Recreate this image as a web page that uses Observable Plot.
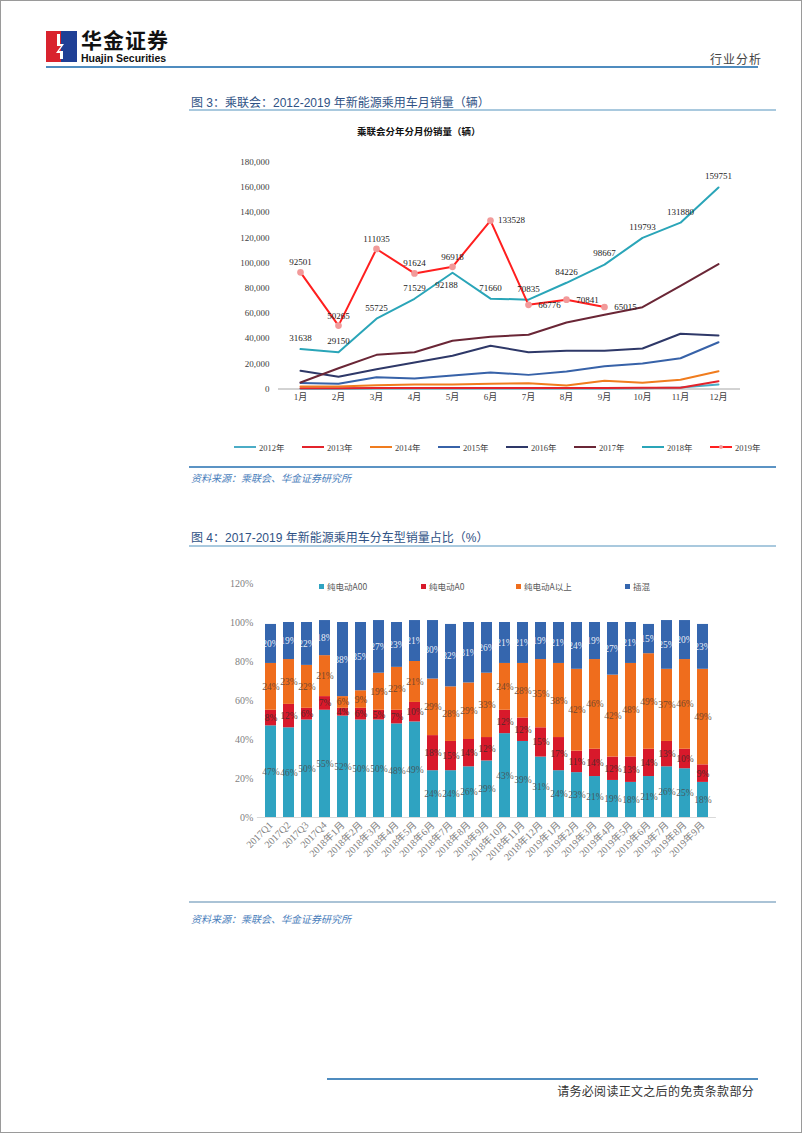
<!DOCTYPE html>
<html><head><meta charset="utf-8">
<script src="https://cdn.jsdelivr.net/npm/d3@7"></script>
<script src="https://cdn.jsdelivr.net/npm/@observablehq/plot@0.6"></script>
<style>
html,body{margin:0;padding:0;background:#fff;}
#page{position:relative;width:802px;height:1133px;overflow:hidden;box-sizing:border-box;border:1px solid #9a9a9a;font-family:"Liberation Sans","Noto Sans CJK SC",sans-serif;}
.abs{position:absolute;white-space:nowrap;}
.hr{position:absolute;}
.figtitle{font-size:12px;color:#2f5285;}
.src{font-size:10px;color:#4a7ebb;font-style:italic;font-family:"Noto Sans CJK SC",sans-serif;}
.leg1{position:absolute;top:440px;left:233px;display:flex;font-family:"Liberation Serif","Noto Sans CJK SC",serif;font-size:8.5px;color:#404040;}
.leg1 .it{width:68px;display:flex;align-items:center;}
.leg2{font-family:"Noto Sans CJK SC",sans-serif;font-size:8.5px;color:#595959;}
</style></head>
<body><div id="page">
  <svg class="abs" style="left:45px;top:30px" width="31" height="31" viewBox="0 0 31 31">
    <rect x="0" y="0" width="15" height="31" fill="#d9232e"/>
    <rect x="15" y="0" width="16" height="31" fill="#1f3f95"/>
    <polygon points="11,3 14,3 14,13 18,13 13,20 17,20 17,28 14,28 14,22 10,22 15,15 11,15" fill="#fff"/>
  </svg>
  <div class="abs" style="left:80px;top:28px;font-size:21px;line-height:21px;height:21px;font-weight:bold;color:#111;letter-spacing:1px;font-family:'Noto Sans CJK SC',sans-serif;">华金证券</div>
  <div class="abs" style="left:80px;top:52px;font-size:10.5px;line-height:11px;height:11px;font-weight:bold;color:#111;">Huajin Securities</div>
  <div class="abs" style="left:709px;top:49px;font-size:12px;color:#444;letter-spacing:1px;font-family:'Noto Sans CJK SC',sans-serif;">行业分析</div>
  <div class="hr" style="left:45px;top:65px;width:712px;height:2px;background:#4f8cbf;"></div>

  <div class="abs figtitle" style="left:190px;top:92px;">图 3：乘联会：2012-2019 年新能源乘用车月销量（辆）</div>
  <div class="hr" style="left:188px;top:108px;width:587px;height:2px;background:#a9c9de;"></div>
  <div class="abs" style="left:356px;top:123px;font-size:9.5px;font-weight:bold;color:#111;font-family:'Noto Sans CJK SC',sans-serif;">乘联会分年分月份销量（辆）</div>
  <div id="chart1" class="abs" style="left:180px;top:140px;"></div>
  <div id="legend1" class="leg1"></div>
  <div class="hr" style="left:188px;top:465px;width:587px;height:2px;background:#5b93c4;"></div>
  <div class="abs src" style="left:190px;top:469px;">资料来源：乘联会、华金证券研究所</div>

  <div class="abs figtitle" style="left:190px;top:527px;">图 4：2017-2019 年新能源乘用车分车型销量占比（%）</div>
  <div class="hr" style="left:188px;top:544px;width:587px;height:2px;background:#a9c9de;"></div>
  <div id="legend2" class="abs leg2" style="left:0;top:579px;width:802px;height:14px;"></div>
  <div id="chart2" class="abs" style="left:190px;top:570px;"></div>
  <div class="hr" style="left:188px;top:900px;width:587px;height:2px;background:#aac3d6;"></div>
  <div class="abs src" style="left:190px;top:910px;">资料来源：乘联会、华金证券研究所</div>

  <div class="hr" style="left:326px;top:1077px;width:431px;height:2px;background:#4f8cbf;"></div>
  <div class="abs" style="right:47px;top:1081px;font-size:12px;color:#333;letter-spacing:0.3px;font-family:'Noto Sans CJK SC',sans-serif;">请务必阅读正文之后的免责条款部分</div>
</div>
<script>
// ---------- Chart 1 data ----------
const months = ["1月","2月","3月","4月","5月","6月","7月","8月","9月","10月","11月","12月"];
const years = ["2012年","2013年","2014年","2015年","2016年","2017年","2018年","2019年"];
const yearColors = ["#4bacc6","#e3232b","#f07c1e","#3762a8","#2e3868","#6a2636","#2aa5b8","#ff1f1f"];
const sales2012 = [200,150,300,300,400,300,400,300,400,500,1200,3600];
const sales2013 = [600,500,700,700,800,700,800,700,800,900,1000,6200];
const sales2014 = [2000,1900,3000,3600,3600,4100,4600,2800,6500,4900,7300,14100];
const sales2015 = [4800,4100,9400,8300,10700,13100,11200,13900,18100,20200,24400,37100];
const sales2016 = [14400,9650,15700,21000,26300,34250,29200,30300,30300,32100,43800,42400];
const sales2017 = [5155,16500,27100,29200,38200,41400,43000,52700,58800,64900,81800,99000];
const sales2018 = [31638,29150,55725,71529,92188,71660,70835,84226,98667,119793,131880,159751];
const sales2019 = [92501,50265,111035,91624,96918,133528,66776,70841,65015];
const yTicks1 = [0,20000,40000,60000,80000,100000,120000,140000,160000,180000];

// ---------- Chart 2 data ----------
const periods = ["2017Q1","2017Q2","2017Q3","2017Q4",
  "2018年1月","2018年2月","2018年3月","2018年4月","2018年5月","2018年6月","2018年7月","2018年8月","2018年9月","2018年10月","2018年11月","2018年12月",
  "2019年1月","2019年2月","2019年3月","2019年4月","2019年5月","2019年6月","2019年7月","2019年8月","2019年9月"];
const types = ["纯电动A00","纯电动A0","纯电动A以上","插混"];
const typeColors = ["#2fa3c1","#d8192b","#ef6d1d","#3566ae"];
const shareA00 = [47,46,50,55,52,50,50,48,49,24,24,26,29,43,39,31,24,23,21,19,18,21,26,25,18];
const shareA0 = [8,12,6,7,4,6,5,7,10,18,15,14,12,12,12,15,17,11,14,12,13,14,13,10,9];
const shareAplus = [24,23,22,21,6,9,19,22,21,29,28,29,33,24,28,35,38,42,46,42,48,49,37,46,49];
const sharePHEV = [20,19,22,18,38,35,27,23,21,30,32,31,26,21,21,19,21,24,19,27,21,15,25,20,23];
const yTicks2 = [0,20,40,60,80,100,120];

// ---------- Build tables ----------
const serif = "'Liberation Serif','Noto Sans CJK SC',serif";
const allSales = [sales2012,sales2013,sales2014,sales2015,sales2016,sales2017,sales2018,sales2019];
const rows1 = years.flatMap((yr,i) => allSales[i].map((v,j) => ({year:yr, month:months[j], value:v})));
const r2018 = rows1.filter(d => d.year === "2018年");
const r2019 = rows1.filter(d => d.year === "2019年");

const chart1 = Plot.plot({
  width: 600, height: 280,
  marginTop: 20.5, marginBottom: 32.5, marginLeft: 97, marginRight: 41,
  style: {fontFamily: serif, fontSize: "9px", color: "#404040", background: "transparent", overflow: "visible"},
  x: {type: "point", domain: months, padding: 0.5, label: null, tickSize: 0, tickPadding: 5},
  y: {domain: [0, 180000], ticks: yTicks1, tickFormat: d3.format(","), label: null, tickSize: 0, tickPadding: 9},
  color: {domain: years, range: yearColors},
  marks: [
    Plot.ruleY([0], {stroke: "#a6a6a6", strokeWidth: 1}),
    Plot.line(rows1, {x: "month", y: "value", z: "year", stroke: "year", strokeWidth: 2}),
    Plot.dot(r2019, {x: "month", y: "value", r: 2.6, fill: "#f29a9a", stroke: "#f29a9a"}),
    Plot.text(r2018.filter(d => d.month !== "5月"), {x: "month", y: "value", text: d => String(d.value), dy: -11, fill: "#222"}),
    Plot.text(r2018.filter(d => d.month === "5月"), {x: "month", y: "value", text: d => String(d.value), dy: 12, dx: -6, fill: "#222"}),
    Plot.text(r2019.slice(0,5), {x: "month", y: "value", text: d => String(d.value), dy: -10, fill: "#222"}),
    Plot.text(r2019.slice(5), {x: "month", y: "value", text: d => String(d.value), dx: 21, fill: "#222"})
  ]
});
document.getElementById("chart1").appendChild(chart1);

// legend 1
const leg1 = document.getElementById("legend1");
years.forEach((yr,i) => {
  const it = document.createElement("div");
  it.className = "it";
  const marker = yr === "2019年" ? `<circle cx="11" cy="4" r="2" fill="#f29a9a"/>` : "";
  it.innerHTML = `<svg width="23" height="8"><line x1="0" x2="22" y1="4" y2="4" stroke="${yearColors[i]}" stroke-width="2"/>${marker}</svg><span style="margin-left:2px">${yr}</span>`;
  leg1.appendChild(it);
});

// ---------- Chart 2 ----------
const allShares = [shareA00, shareA0, shareAplus, sharePHEV];
const rows2 = types.flatMap((t,i) => allShares[i].map((v,j) => ({type:t, period:periods[j], value:v})));
const labelFill = ["#4a4a4a","#3a2a2a","#5a4030","#ffffff"];

const chart2 = Plot.plot({
  width: 560, height: 310,
  marginTop: 12, marginBottom: 64, marginLeft: 65.9, marginRight: 35.1,
  style: {fontFamily: serif, fontSize: "10px", color: "#7f7f7f", background: "transparent", overflow: "visible"},
  x: {type: "band", domain: periods, padding: 0.375, label: null, tickSize: 0, tickPadding: 6, tickRotate: -45},
  y: {domain: [0, 120], ticks: yTicks2, tickFormat: d => d + "%", label: null, tickSize: 0, tickPadding: 4},
  color: {domain: types, range: typeColors},
  marks: [
    Plot.ruleY([0], {stroke: "#d9d9d9"}),
    Plot.barY(rows2, Plot.stackY({x: "period", y: "value", z: "type", fill: "type", order: types})),
    ...types.map((t,i) => Plot.text(rows2, Plot.stackY({x: "period", y: "value", z: "type", order: types,
      text: d => d.type === t ? d.value + "%" : null, fill: labelFill[i], fontSize: 9.5, fillOpacity: i === 3 ? 0.9 : 0.85})))
  ]
});
document.getElementById("chart2").appendChild(chart2);

// legend 2
const leg2 = document.getElementById("legend2");
const leg2x = [318, 420, 515, 624];
types.forEach((t,i) => {
  const d = document.createElement("div");
  d.style.cssText = `position:absolute;left:${leg2x[i]}px;top:0;display:flex;align-items:center;`;
  d.innerHTML = `<span style="display:inline-block;width:5px;height:5px;background:${typeColors[i]};margin-right:3px"></span><span>${t}</span>`;
  leg2.appendChild(d);
});
</script>
</body></html>
